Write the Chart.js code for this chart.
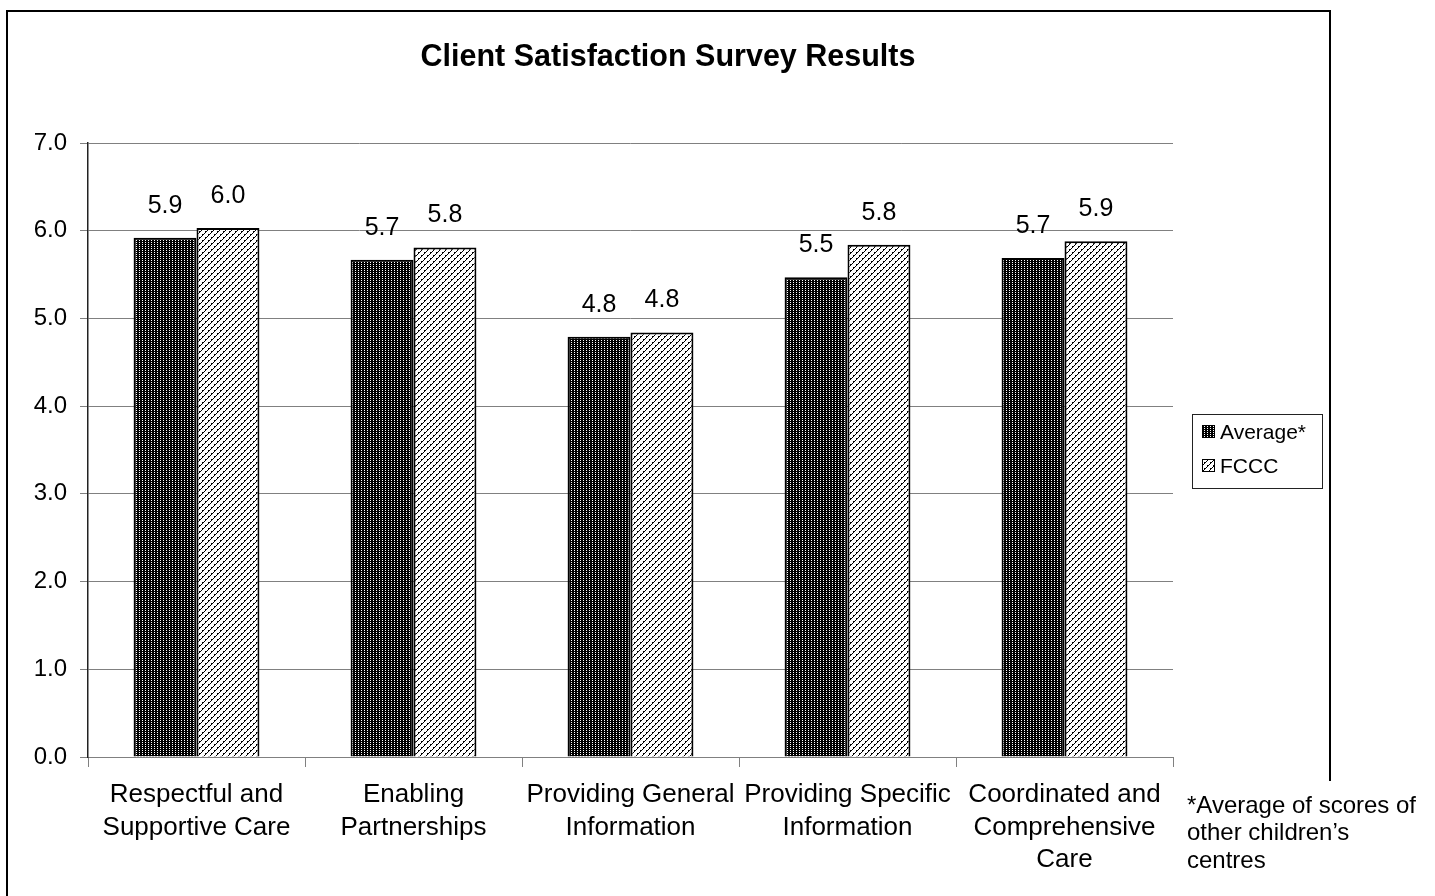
<!DOCTYPE html>
<html>
<head>
<meta charset="utf-8">
<script src="https://cdn.jsdelivr.net/npm/chart.js@4.4.1/dist/chart.umd.min.js"></script>
<style>
  body { margin: 0; background: #fff; }
  #c { display: block; }
</style>
</head>
<body>
<canvas id="c" width="1435" height="896" style="width:1435px;height:896px"></canvas>
<script>
const categories = [
    ['Respectful and', 'Supportive Care'],
    ['Enabling', 'Partnerships'],
    ['Providing General', 'Information'],
    ['Providing Specific', 'Information'],
    ['Coordinated and', 'Comprehensive', 'Care']
];
const averageScores = [5.92, 5.67, 4.79, 5.47, 5.69];
const fcccScores = [6.03, 5.81, 4.84, 5.84, 5.88];
const seriesNames = ['Average*', 'FCCC'];
const footnote = ['*Average of scores of', 'other children\u2019s', 'centres'];
const chartTitle = 'Client Satisfaction Survey Results';

const FONT = '"Liberation Sans", Arial, Helvetica, sans-serif';

const canvas = document.getElementById('c');
const ctx = canvas.getContext('2d');

// black with white dots
function dotPattern() {
    const t = document.createElement('canvas');
    t.width = 3; t.height = 2;
    const g = t.getContext('2d');
    g.fillStyle = '#000';
    g.fillRect(0, 0, 3, 2);
    g.fillStyle = '#fff';
    g.fillRect(1, 0, 1, 1);
    return ctx.createPattern(t, 'repeat');
}

// white with small diagonal zigzags
function zigzagPattern() {
    const t = document.createElement('canvas');
    t.width = 6; t.height = 6;
    const g = t.getContext('2d');
    g.fillStyle = '#fff';
    g.fillRect(0, 0, 6, 6);
    g.fillStyle = '#000';
    for (let i = 0; i < 6; i++) {
        g.fillRect(i, 5 - i, 1, 1);
    }
    g.fillRect(1, 3, 1, 1);
    g.fillRect(4, 0, 1, 1);
    return ctx.createPattern(t, 'repeat');
}

const fills = [dotPattern(), zigzagPattern()];

const extras = {
    id: 'extras',
    afterDatasetsDraw(chart) {
        const c = chart.ctx;
        c.save();
        c.fillStyle = '#000';
        c.font = '25px ' + FONT;
        c.textAlign = 'center';
        c.textBaseline = 'middle';
        chart.data.datasets.forEach((ds, di) => {
            chart.getDatasetMeta(di).data.forEach((bar, i) => {
                c.fillText(ds.data[i].toFixed(1), bar.x, bar.y - 32);
            });
        });
        c.restore();
    },
    afterDraw(chart) {
        const c = chart.ctx;
        c.save();
        // outer frame
        c.strokeStyle = '#000';
        c.lineWidth = 2;
        c.beginPath();
        c.moveTo(7, 896);
        c.lineTo(7, 11);
        c.lineTo(1330, 11);
        c.lineTo(1330, 781);
        c.stroke();

        // title
        c.fillStyle = '#000';
        c.font = 'bold 30.5px ' + FONT;
        c.textAlign = 'center';
        c.textBaseline = 'middle';
        c.fillText(chartTitle, 668, 58);

        // legend
        c.lineWidth = 1;
        c.strokeStyle = '#222';
        c.strokeRect(1192.5, 414.5, 130, 74);
        c.font = '21px ' + FONT;
        c.textAlign = 'left';
        seriesNames.forEach((name, i) => {
            const y = 432 + i * 34;
            c.fillStyle = fills[i];
            c.fillRect(1202, y - 7, 13, 13);
            c.strokeStyle = '#000';
            c.strokeRect(1202.5, y - 6.5, 12, 12);
            c.fillStyle = '#000';
            c.fillText(name, 1220, y + 1);
        });

        // footnote
        c.font = '24px ' + FONT;
        footnote.forEach((line, i) => {
            c.fillText(line, 1187, 806 + i * 27.5);
        });
        c.restore();
    }
};

new Chart(canvas, {
    type: 'bar',
    data: {
        labels: categories,
        datasets: [{
            label: seriesNames[0],
            data: averageScores,
            backgroundColor: fills[0],
            borderColor: '#000',
            borderWidth: 2
        },
        {
            label: seriesNames[1],
            data: fcccScores,
            backgroundColor: fills[1],
            borderColor: '#000',
            borderWidth: 2
        }]
    },
    options: {
        responsive: false,
        animation: false,
        devicePixelRatio: 1,
        categoryPercentage: 0.58,
        barPercentage: 1.0,
        layout: {
            padding: { top: 143, right: 262, left: 0, bottom: 0 }
        },
        plugins: {
            legend: { display: false },
            title: { display: false },
            tooltip: { enabled: false }
        },
        scales: {
            x: {
                afterFit(scale) { scale.height = 139; },
                grid: {
                    display: true,
                    drawOnChartArea: false,
                    tickLength: 10,
                    color: '#808080'
                },
                border: { color: '#808080', width: 1 },
                ticks: {
                    color: '#000',
                    padding: 12,
                    maxRotation: 0,
                    autoSkip: false,
                    font: { family: FONT, size: 26, lineHeight: 1.25 }
                }
            },
            y: {
                min: 0,
                max: 7,
                afterFit(scale) { scale.width = 88; },
                grid: {
                    color: '#808080',
                    tickLength: 8
                },
                border: { color: '#222', width: 1.5 },
                ticks: {
                    stepSize: 1,
                    color: '#000',
                    padding: 13,
                    font: { family: FONT, size: 24 },
                    callback: v => v.toFixed(1)
                }
            }
        }
    },
    plugins: [extras]
});
</script>
</body>
</html>
